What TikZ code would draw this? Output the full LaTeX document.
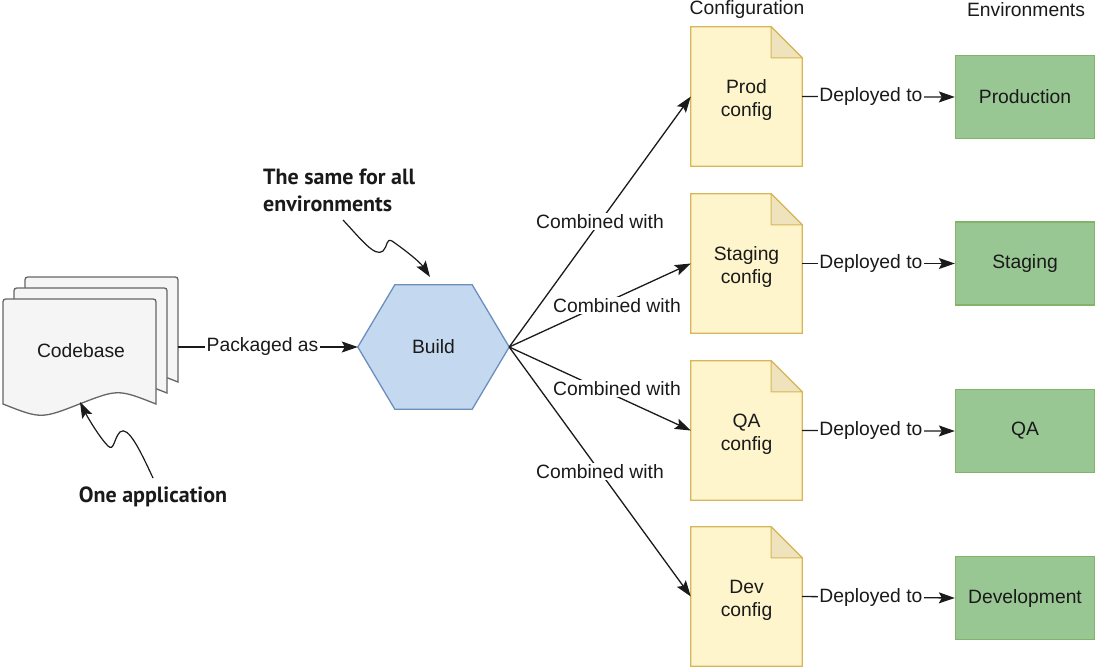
\documentclass[tikz,border=0pt]{standalone}
\usepackage{fontspec}
\setmainfont{Liberation Sans}
\newfontfamily\annfont{PT Sans}
\usetikzlibrary{arrows.meta,backgrounds}
\definecolor{txt}{HTML}{1A1A1A}
\definecolor{pagefill}{HTML}{F5F5F5}
\definecolor{pageline}{HTML}{666666}
\definecolor{hexfill}{HTML}{C4D9EF}
\definecolor{hexline}{HTML}{6C8EBF}
\definecolor{docfill}{HTML}{FFF5CC}
\definecolor{docline}{HTML}{D6B656}
\definecolor{foldfill}{HTML}{EFE3BE}
\definecolor{envfill}{HTML}{99C794}
\definecolor{envline}{HTML}{82B366}
\tikzset{
  basefont/.style={font=\fontsize{19.3}{23}\selectfont, text=txt},
  docnode/.style={minimum width=111pt, minimum height=139pt, inner sep=0pt},
  doctext/.style={basefont, align=center, inner sep=0pt, yshift=-4pt},
  envnode/.style={basefont, draw=envline, fill=envfill, line width=1.3pt, minimum width=139pt, minimum height=83pt, inner sep=0pt},
  lbl/.style={basefont, fill=white, inner sep=1.5pt},
  arr/.style={line width=1.3pt, draw=txt, -{Stealth[length=16pt,width=11pt,inset=3pt]}},
  annarr/.style={line width=1.2pt, draw=txt, -{Stealth[length=16pt,width=11pt,inset=3pt]}},
  ann/.style={font=\annfont\bfseries\fontsize{22}{27}\selectfont, text=txt, inner sep=0pt},
  page/.style={fill=pagefill, draw=pageline, line width=1.3pt},
  hdr/.style={basefont, inner sep=0pt}
}
\begin{document}
\begin{tikzpicture}[x=1pt,y=-1pt]
\useasboundingbox (0,0) rectangle (1097,667);

% Codebase pages (back to front)
\foreach \dx/\dy in {22/-22, 11/-11, 0/0}{
  \begin{scope}[shift={(\dx,\dy)}]
    \draw[page] (3,404) -- (3,305) .. controls (3,299) .. (9,299) -- (150,299)
      .. controls (156,299) .. (156,305) -- (156,404)
      .. controls (118,389) .. (79.5,404) .. controls (41,419) .. (3,404) -- cycle;
  \end{scope}
}
\node[basefont] (codebase) at (81,351) {Codebase};
\coordinate (codeR) at (178,347);

% Build hexagon
\node[basefont, minimum width=151pt, minimum height=124pt, inner sep=0pt] (build) at (433.5,347) {Build};
\begin{scope}[on background layer]
  \draw[fill=hexfill, draw=hexline, line width=1.3pt]
    (build.west) -- ([xshift=37pt]build.north west) -- ([xshift=-37pt]build.north east)
    -- (build.east) -- ([xshift=-37pt]build.south east) -- ([xshift=37pt]build.south west) -- cycle;
\end{scope}

% Config documents
\node[docnode, label={[doctext]center:Prod\\config}] (prod) at (746.5,96.5) {};
\node[docnode, label={[doctext]center:Staging\\config}] (staging) at (746.5,263.5) {};
\node[docnode, label={[doctext]center:QA\\config}] (qa) at (746.5,430.5) {};
\node[docnode, label={[doctext]center:Dev\\config}] (dev) at (746.5,596.5) {};
\begin{scope}[on background layer]
  \foreach \n in {prod,staging,qa,dev}{
    \draw[fill=docfill, draw=docline, line width=1.3pt]
      (\n.north west) -- ([xshift=-31pt]\n.north east) -- ([yshift=-31pt]\n.north east)
      -- (\n.south east) -- (\n.south west) -- cycle;
    \draw[fill=foldfill, draw=docline, line width=1pt, line join=round]
      ([xshift=-31pt]\n.north east) -- ([yshift=-31pt]\n.north east)
      -- ([xshift=-31pt,yshift=-31pt]\n.north east) -- cycle;
  }
\end{scope}

% Environments
\node[envnode] (production) at (1025,97) {Production};
\node[envnode] (stagingenv) at (1025,263.5) {Staging};
\node[envnode] (qaenv) at (1025,431) {QA};
\node[envnode] (development) at (1025,598) {Development};

% Headers
\node[hdr] (confhdr) at (747,10) {Configuration};
\node[hdr] (envhdr) at (1026,10) {Environments};

% Connectors
\draw[arr] (codeR) -- node[lbl, pos=0.47] {Packaged as} (build.west);
\draw[arr] (build.east) -- node[lbl, pos=0.5] {Combined with} (prod.west);
\draw[arr] (build.east) -- node[lbl, pos=0.5, xshift=17pt] {Combined with} (staging.west);
\draw[arr] (build.east) -- node[lbl, pos=0.5, xshift=17pt] {Combined with} (qa.west);
\draw[arr] (build.east) -- node[lbl, pos=0.5] {Combined with} (dev.west);
\draw[arr] (prod.east) -- node[lbl, pos=0.45] {Deployed to} (production.west);
\draw[arr] (staging.east) -- node[lbl, pos=0.45] {Deployed to} (stagingenv.west);
\draw[arr] (qa.east) -- node[lbl, pos=0.45] {Deployed to} (qaenv.west);
\draw[arr] (dev.east) -- node[lbl, pos=0.45] {Deployed to} (development.west);

% Annotations
\node[ann, align=left, anchor=base west] (sameann) at (263,211) {The same for all\\environments};
\coordinate (sameS) at (343,220);
\coordinate (sameT) at (430,277);
\draw[annarr] (sameS) .. controls (360,238) and (375,258) .. (383,251)
  .. controls (388,246) and (386,238) .. (392,241)
  .. controls (405,250) and (420,262) .. (sameT);

\node[ann, anchor=base] (oneann) at (153,502) {One application};
\coordinate (oneS) at (153,478);
\coordinate (oneT) at (80,402);
\draw[annarr] (oneS) .. controls (140,450) and (128,425) .. (120,432)
  .. controls (114,438) and (114,452) .. (108,446)
  .. controls (100,438) and (88,418) .. (oneT);
\end{tikzpicture}
\end{document}
